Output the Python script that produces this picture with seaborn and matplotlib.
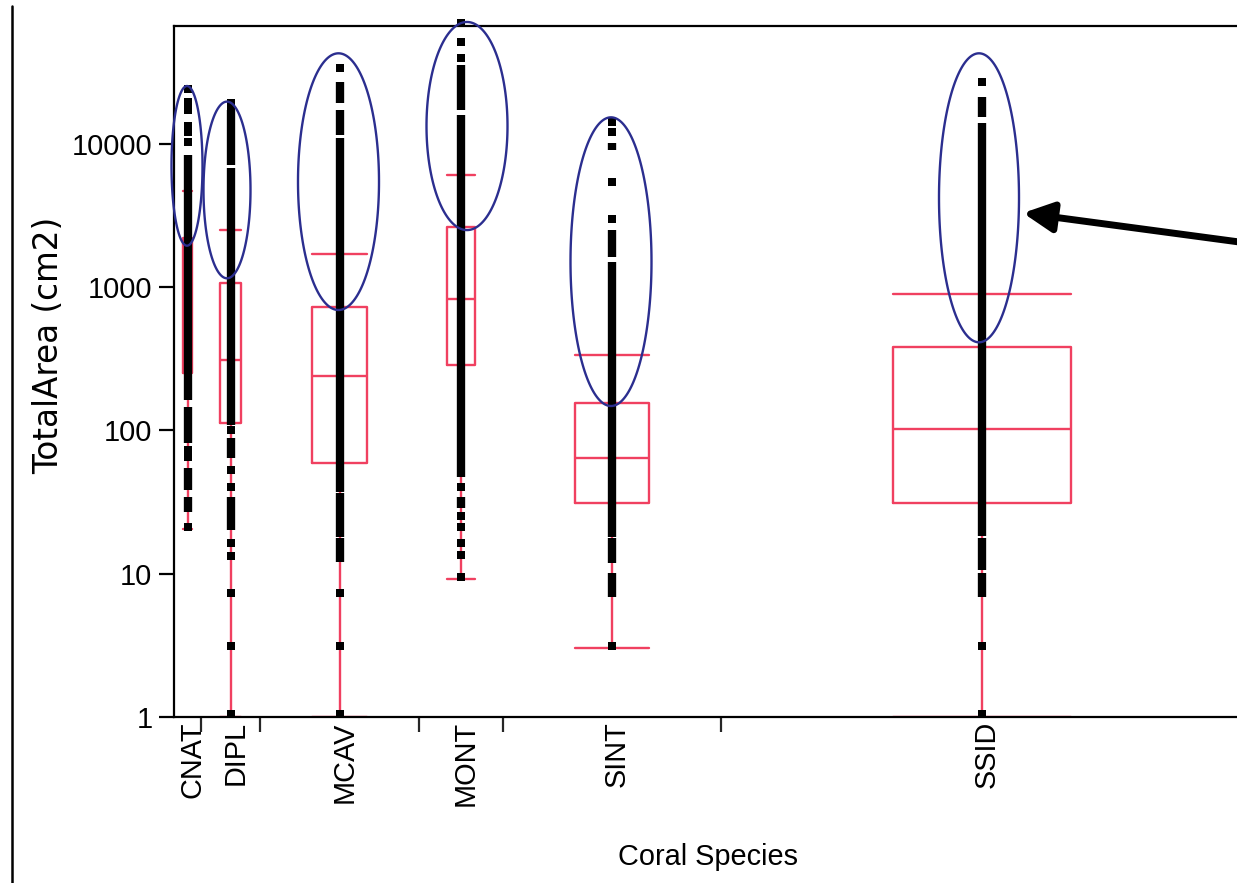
import numpy as np
import pandas as pd
import matplotlib
matplotlib.use("Agg")
import matplotlib.pyplot as plt
import seaborn as sns
from matplotlib.lines import Line2D
from matplotlib.patches import ArrowStyle, Polygon
from matplotlib.transforms import ScaledTranslation

# ---------------- data ----------------
species = ["CNAT", "DIPL", "MCAV", "MONT", "SINT", "SSID"]
sample_share = [27, 59, 159, 84, 218, 522]          # relative sample sizes (box/segment widths)

q1 = [251, 113, 58.9, 286, 31.0, 31.3]
median = [750, 310, 241, 826, 63.9, 102]
q3 = [2200, 1070, 730, 2610, 156, 384]
whisker_low = [20.5, 1, 1, 9.14, 3.02, 1]
whisker_high = [4700, 2490, 1700, 6060, 336, 895]

# isolated observations
cnat_points = [24100, 19600, 17200, 13300, 12100, 10300, 73, 65, 21.2]
dipl_points = [19300, 17800, 100.7, 53, 40.3, 16.4, 13.3, 7.33, 3.13, 1.05]
mcav_points = [33600, 7.37, 3.15, 1.05]
mont_points = [69700, 51300, 39400, 40.5, 25.3, 21.3, 16.5, 13.4, 9.44]
sint_points = [14300, 12000, 5390, 2970, 3.15]
ssid_points = [27100, 3.15, 1.05]

# ranges where observations are so dense they form a solid column (low, high)
cnat_dense_lo = [163, 81.7, 38.4, 27]
cnat_dense_hi = [8350, 146, 54.7, 34.3]
dipl_dense_lo = [7110, 109, 64.2, 20.2]
dipl_dense_hi = [17200, 6780, 88.5, 34.3]
mcav_dense_lo = [19200, 11500, 37.3, 18.1, 12.0]
mcav_dense_hi = [27100, 17200, 10900, 36.4, 17.7]
mont_dense_lo = [17200, 47.5, 28.6]
mont_dense_hi = [35500, 15900, 34.5]
sint_dense_lo = [9060, 1630, 18.1, 11.9, 6.91]
sint_dense_hi = [10100, 2500, 1500, 17.7, 10.1]
ssid_dense_lo = [15500, 18.3, 10.6, 6.9]
ssid_dense_hi = [21100, 13900, 17.7, 10.1]

y_ticks = [1, 10, 100, 1000, 10000]
y_tick_labels = ["1", "10", "100", "1000", "10000"]

points_all = [cnat_points, dipl_points, mcav_points, mont_points, sint_points, ssid_points]
dense_lo_all = [cnat_dense_lo, dipl_dense_lo, mcav_dense_lo, mont_dense_lo, sint_dense_lo, ssid_dense_lo]
dense_hi_all = [cnat_dense_hi, dipl_dense_hi, mcav_dense_hi, mont_dense_hi, sint_dense_hi, ssid_dense_hi]

# ---------------- styling ----------------
RED = "#F04060"
NAVY = "#2B2E8F"
sns.set_theme(style="white")
plt.rcParams["font.family"] = ["Liberation Sans", "DejaVu Sans"]
FS = 20.8

W, H = 1237, 883
fig = plt.figure(figsize=(W / 100, H / 100), dpi=100)
ax = fig.add_axes([174 / W, (H - 717) / H, 1069 / W, 691 / H])

share = np.array(sample_share, dtype=float)
edges = np.concatenate([[0], np.cumsum(share)])
centers = (edges[:-1] + edges[1:]) / 2
box_w = 0.34 * share

# boxes
stats = []
for i, sp in enumerate(species):
    stats.append(dict(label=sp, med=median[i], q1=q1[i], q3=q3[i],
                      whislo=whisker_low[i], whishi=whisker_high[i], fliers=[]))
lp = dict(color=RED, linewidth=1.7)
ax.bxp(stats, positions=centers, widths=box_w, capwidths=box_w, showfliers=False,
       boxprops=lp, whiskerprops=lp, capprops=lp, medianprops=lp, manage_ticks=False)

# observations
rows = []
for i, sp in enumerate(species):
    for v in points_all[i]:
        rows.append((sp, centers[i], v))
df = pd.DataFrame(rows, columns=["species", "x", "TotalArea"])
sns.scatterplot(data=df, x="x", y="TotalArea", marker="s", s=30, color="black",
                linewidth=0, ax=ax, legend=False, zorder=4, clip_on=False)
for i in range(len(species)):
    ax.vlines([centers[i]] * len(dense_lo_all[i]), dense_lo_all[i], dense_hi_all[i],
              colors="black", linewidth=6, zorder=4, capstyle="butt")

ax.set_yscale("log")
ax.set_ylim(1, 10 ** ((717 - 26) / 143.3))
ax.set_xlim(0, edges[-1])

# highlight ellipses (annotation): x offset from category centre, width, y range
ell_dx = [-0.5, -3.5, -1, 6, -1, -3]
ell_w = [31, 47, 81, 81, 81, 80]
ell_lo = [1945, 1152, 692, 2500, 148, 412]
ell_hi = [25300, 19700, 42800, 70800, 15300, 42800]
t = np.linspace(0, 2 * np.pi, 400, endpoint=False)
for i in range(len(species)):
    cx = centers[i] + ell_dx[i]
    lc = (np.log10(ell_lo[i]) + np.log10(ell_hi[i])) / 2
    lr = (np.log10(ell_hi[i]) - np.log10(ell_lo[i])) / 2
    xy = np.column_stack([cx + ell_w[i] / 2 * np.cos(t), 10 ** (lc + lr * np.sin(t))])
    ax.add_patch(Polygon(xy, closed=True, fill=False, edgecolor=NAVY, linewidth=1.7,
                         zorder=5, clip_on=False))

# arrow
ax.annotate("", xy=(849, 3290), xytext=(1080, 2000), xycoords="data",
            annotation_clip=False,
            arrowprops=dict(arrowstyle=ArrowStyle("-|>", head_length=1.8, head_width=0.9),
                            color="black", linewidth=5, shrinkA=0, shrinkB=0,
                            mutation_scale=10))

# axes / ticks
for s in ["left", "bottom", "top"]:
    ax.spines[s].set_visible(True)
    ax.spines[s].set_color("black")
    ax.spines[s].set_linewidth(1.6)
ax.spines["right"].set_visible(False)

ax.set_yticks(y_ticks)
ax.set_yticklabels(y_tick_labels)
ax.yaxis.set_minor_locator(matplotlib.ticker.NullLocator())
ax.tick_params(axis="y", which="major", direction="out", length=11, width=1.6,
               pad=4.5, labelsize=FS, colors="black", left=True)

ax.set_xticks(edges[1:-1])
ax.set_xticklabels([])
ax.set_xticks(centers, minor=True)
ax.set_xticklabels(species, minor=True, rotation=90)
ax.tick_params(axis="x", which="major", direction="out", length=11, width=1.6, bottom=True)
ax.tick_params(axis="x", which="minor", length=0, pad=3, labelsize=FS, colors="black")
for lbl in ax.get_xticklabels(minor=True):
    lbl.set_transform(lbl.get_transform() + ScaledTranslation(3.5 / 72, 0, fig.dpi_scale_trans))

ax.set_ylabel("TotalArea (cm2)", fontsize=23.5, color="black", va="center",
              family=["DejaVu Sans"])
ax.yaxis.set_label_coords((49 - 174) / 1069, (717 - 345) / 691)
ax.set_xlabel("Coral Species", fontsize=FS, color="black", va="center")
ax.xaxis.set_label_coords(0.5, -(857 - 717) / 691)
ax.grid(False)

fig.add_artist(Line2D([12 / W, 12 / W], [0, (H - 6) / H], color="black", linewidth=1.8))

fig.savefig("out.png", dpi=100)
